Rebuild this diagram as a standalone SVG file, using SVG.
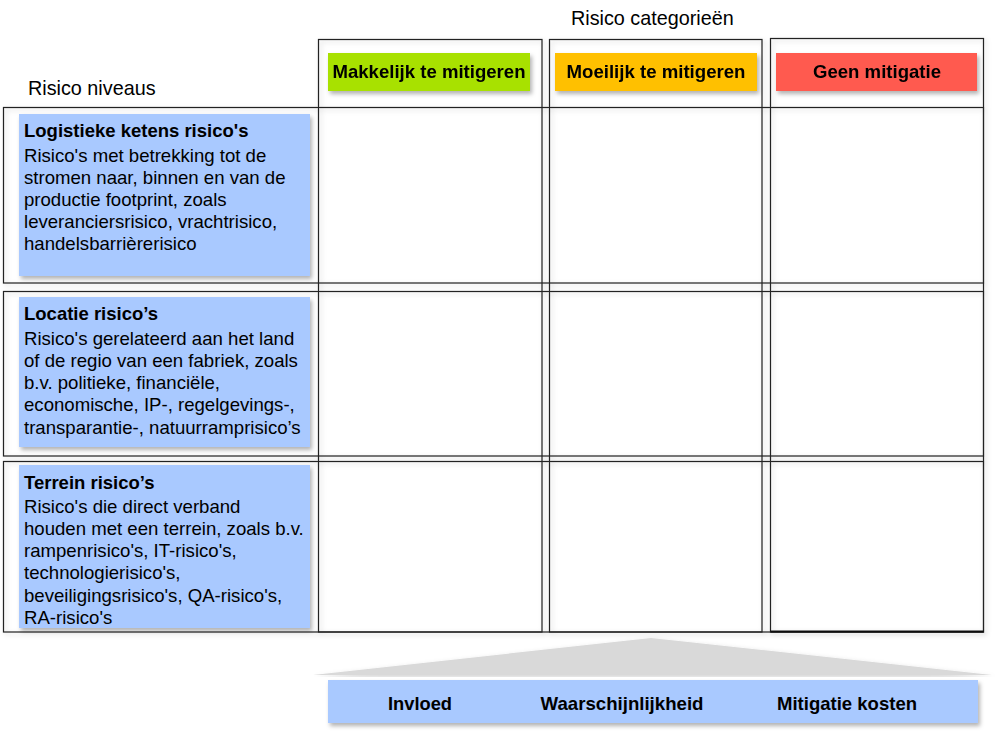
<svg xmlns="http://www.w3.org/2000/svg" width="1000" height="734" viewBox="0 0 1000 734">
<defs>
<filter id="sh" x="-10%" y="-10%" width="120%" height="130%">
<feDropShadow dx="2" dy="3" stdDeviation="2" flood-color="#000" flood-opacity="0.3"/>
</filter>
<filter id="lsh" x="-5%" y="-5%" width="110%" height="110%">
<feDropShadow dx="2" dy="2" stdDeviation="2.5" flood-color="#000" flood-opacity="0.18"/>
</filter>
<style>
.frame{fill:none;stroke:#222;stroke-width:1.2}
.lvl{fill:#A9C9FF}
.t{font-family:"Liberation Sans",Arial,sans-serif;font-size:18.6px;fill:#000}
.tb{font-family:"Liberation Sans",Arial,sans-serif;font-size:18.5px;font-weight:bold;fill:#000}
.hd{font-family:"Liberation Sans Narrow","Liberation Sans",Arial,sans-serif;font-size:19px;font-weight:bold;fill:#000;text-anchor:middle}
.lab{font-family:"Liberation Sans",Arial,sans-serif;font-size:19.8px;fill:#000}
</style>
</defs>
<rect width="1000" height="734" fill="#fff"/>
<text class="lab" x="571" y="25">Risico categorieën</text>
<text class="lab" x="28" y="95">Risico niveaus</text>

<g id="grid" filter="url(#lsh)">
<rect class="frame" x="318.5" y="39.5" width="223.5" height="592.5"/>
<rect class="frame" x="549.5" y="39.5" width="212.5" height="592.5"/>
<rect class="frame" x="770.5" y="38.5" width="213" height="593.5"/>
<rect class="frame" x="3.5" y="107.5" width="980" height="175.5"/>
<rect class="frame" x="3.5" y="291.5" width="980" height="164.5"/>
<rect class="frame" x="3.5" y="461.5" width="980" height="170.5"/>
<line x1="770.5" y1="631.5" x2="983.5" y2="631.5" stroke="#111" stroke-width="2"/>
</g>

<g id="cat-makkelijk" filter="url(#sh)">
<rect x="328" y="53" width="202" height="38" fill="#A8E100"/>
<text class="hd" x="429" y="78" textLength="193" lengthAdjust="spacingAndGlyphs">Makkelijk te mitigeren</text>
</g>
<g id="cat-moeilijk" filter="url(#sh)">
<rect x="555" y="53" width="202" height="38" fill="#FFC000"/>
<text class="hd" x="656" y="78" textLength="179" lengthAdjust="spacingAndGlyphs">Moeilijk te mitigeren</text>
</g>
<g id="cat-geen" filter="url(#sh)">
<rect x="776" y="53" width="201" height="38" fill="#FF5A50"/>
<text class="hd" x="877" y="78" textLength="128" lengthAdjust="spacingAndGlyphs">Geen mitigatie</text>
</g>

<g id="lvl-logistiek">
<rect class="lvl" x="19" y="114" width="291" height="162" filter="url(#sh)"/>
<text class="tb" x="24" y="137">Logistieke ketens risico's</text>
<text class="t" x="24" y="162">Risico's met betrekking tot de</text>
<text class="t" x="24" y="184">stromen naar, binnen en van de</text>
<text class="t" x="24" y="206">productie footprint, zoals</text>
<text class="t" x="24" y="228">leveranciersrisico, vrachtrisico,</text>
<text class="t" x="24" y="250">handelsbarrièrerisico</text>
</g>

<g id="lvl-locatie">
<rect class="lvl" x="19" y="297" width="291" height="150" filter="url(#sh)"/>
<text class="tb" x="24" y="320">Locatie risico’s</text>
<text class="t" x="24" y="345">Risico's gerelateerd aan het land</text>
<text class="t" x="24" y="367">of de regio van een fabriek, zoals</text>
<text class="t" x="24" y="389">b.v. politieke, financiële,</text>
<text class="t" x="24" y="411">economische, IP-, regelgevings-,</text>
<text class="t" x="24" y="434">transparantie-, natuurramprisico’s</text>
</g>

<g id="lvl-terrein">
<rect class="lvl" x="19" y="465" width="291" height="163" filter="url(#sh)"/>
<text class="tb" x="24" y="489">Terrein risico’s</text>
<text class="t" x="24" y="513">Risico's die direct verband</text>
<text class="t" x="24" y="535">houden met een terrein, zoals b.v.</text>
<text class="t" x="24" y="557">rampenrisico's, IT-risico's,</text>
<text class="t" x="24" y="579">technologierisico's,</text>
<text class="t" x="24" y="602">beveiligingsrisico's, QA-risico's,</text>
<text class="t" x="24" y="624">RA-risico's</text>
</g>

<g id="factors">
<polygon points="313,675 651,638 992,675" fill="#D9D9D9" filter="url(#lsh)"/>
<rect x="328" y="680" width="650" height="43" fill="#A9C9FF" filter="url(#sh)"/>
<text class="hd" x="420" y="710" textLength="64" lengthAdjust="spacingAndGlyphs">Invloed</text>
<text class="hd" x="622" y="710" textLength="163" lengthAdjust="spacingAndGlyphs">Waarschijnlijkheid</text>
<text class="hd" x="847" y="710" textLength="140" lengthAdjust="spacingAndGlyphs">Mitigatie kosten</text>
</g>
</svg>
